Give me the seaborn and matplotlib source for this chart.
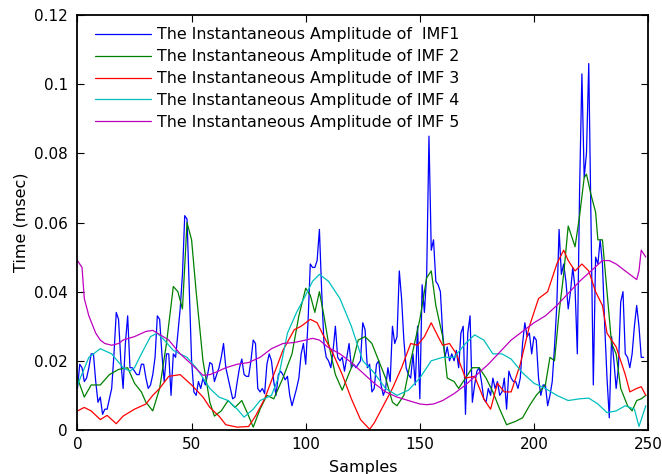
import pandas as pd
import seaborn as sns
import matplotlib
matplotlib.use("Agg")
import matplotlib.pyplot as plt
from matplotlib.ticker import FuncFormatter

# %% Data
imf1_x = list(range(0, 249))
imf1_y = [0.012, 0.019, 0.018, 0.014, 0.015, 0.018, 0.022, 0.022, 0.014, 0.008,
          0.0095, 0.0045, 0.006, 0.006, 0.009, 0.012, 0.022, 0.034, 0.032, 0.020,
          0.012, 0.025, 0.033, 0.018, 0.018, 0.017, 0.016, 0.016, 0.019, 0.019,
          0.015, 0.012, 0.013, 0.016, 0.021, 0.033, 0.032, 0.022, 0.014, 0.022,
          0.022, 0.010, 0.022, 0.021, 0.028, 0.035, 0.045, 0.062, 0.061, 0.040,
          0.020, 0.011, 0.010, 0.014, 0.012, 0.015, 0.013, 0.016, 0.0195, 0.019,
          0.014, 0.016, 0.018, 0.021, 0.025, 0.018, 0.015, 0.012, 0.009, 0.0095,
          0.014, 0.018, 0.0205, 0.016, 0.0155, 0.0155, 0.020, 0.026, 0.025, 0.012,
          0.011, 0.012, 0.0105, 0.019, 0.022, 0.020, 0.014, 0.010, 0.016, 0.017,
          0.016, 0.0145, 0.0155, 0.010, 0.007, 0.0095, 0.012, 0.015, 0.022, 0.025,
          0.019, 0.031, 0.048, 0.047, 0.047, 0.049, 0.058, 0.040, 0.025, 0.021,
          0.020, 0.018, 0.023, 0.030, 0.021, 0.020, 0.021, 0.017, 0.021, 0.025,
          0.018, 0.019, 0.018, 0.019, 0.020, 0.031, 0.029, 0.018, 0.019, 0.011,
          0.012, 0.019, 0.020, 0.013, 0.010, 0.012, 0.018, 0.014, 0.030, 0.025,
          0.027, 0.046, 0.038, 0.026, 0.018, 0.016, 0.015, 0.022, 0.013, 0.030,
          0.009, 0.042, 0.034, 0.045, 0.085, 0.052, 0.055, 0.043, 0.042, 0.040,
          0.028, 0.021, 0.024, 0.020, 0.022, 0.020, 0.023, 0.018, 0.028, 0.030,
          0.0045, 0.028, 0.033, 0.008, 0.013, 0.017, 0.018, 0.014, 0.009, 0.008,
          0.012, 0.010, 0.015, 0.012, 0.014, 0.010, 0.011, 0.015, 0.006, 0.017,
          0.015, 0.014, 0.014, 0.012, 0.015, 0.025, 0.031, 0.027, 0.028, 0.022,
          0.027, 0.026, 0.015, 0.010, 0.013, 0.013, 0.007, 0.010, 0.014, 0.024,
          0.036, 0.058, 0.045, 0.048, 0.043, 0.035, 0.040, 0.047, 0.041, 0.022,
          0.070, 0.103, 0.073, 0.080, 0.106, 0.060, 0.013, 0.050, 0.048, 0.055,
          0.048, 0.030, 0.015, 0.0035, 0.027, 0.020, 0.012, 0.018, 0.037, 0.040,
          0.022, 0.021, 0.018, 0.022, 0.030, 0.036, 0.030, 0.021, 0.021]

imf2_x = [0, 3, 6, 10, 14, 18, 22, 25, 28, 30, 33, 36, 39, 42, 44, 46, 48, 50, 52,
          55, 58, 60, 63, 66, 69, 72, 75, 77, 80, 83, 86, 90, 94, 97, 100, 102, 104,
          106, 108, 110, 113, 116, 120, 123, 126, 129, 132, 135, 138, 140, 143, 146,
          150, 153, 155, 157, 160, 162, 165, 167, 170, 173, 176, 179, 182, 185, 188,
          192, 195, 198, 201, 205, 207, 209, 211, 213, 215, 218, 220, 222, 223, 225,
          227, 228, 230, 232, 234, 236, 238, 241, 243, 245, 247, 249]
imf2_y = [0.015, 0.0095, 0.013, 0.013, 0.016, 0.0175, 0.018, 0.0135, 0.011, 0.008,
          0.0055, 0.012, 0.025, 0.0415, 0.040, 0.035, 0.060, 0.055, 0.040, 0.020,
          0.008, 0.004, 0.0055, 0.0085, 0.0065, 0.0085, 0.004, 0.0008, 0.006, 0.010,
          0.009, 0.015, 0.022, 0.033, 0.041, 0.039, 0.034, 0.040, 0.033, 0.025,
          0.016, 0.0115, 0.018, 0.026, 0.027, 0.025, 0.020, 0.015, 0.008, 0.007,
          0.010, 0.020, 0.032, 0.044, 0.046, 0.036, 0.027, 0.015, 0.014, 0.012,
          0.015, 0.018, 0.018, 0.015, 0.011, 0.006, 0.0015, 0.0025, 0.0035, 0.007,
          0.010, 0.013, 0.021, 0.020, 0.034, 0.045, 0.059, 0.053, 0.062, 0.073,
          0.074, 0.068, 0.063, 0.055, 0.055, 0.040, 0.025, 0.022, 0.012, 0.007,
          0.0055, 0.0085, 0.009, 0.010]

imf3_x = [0, 3, 6, 10, 13, 15, 17, 20, 25, 30, 33, 36, 40, 45, 50, 55, 58, 62, 65,
          70, 75, 78, 82, 86, 90, 95, 98, 102, 105, 108, 112, 116, 120, 124, 128,
          130, 134, 138, 142, 146, 149, 152, 155, 158, 160, 163, 166, 170, 174, 178,
          181, 184, 187, 190, 194, 198, 202, 206, 210, 213, 215, 218, 221, 224, 227,
          230, 232, 236, 240, 242, 245, 247, 249]
imf3_y = [0.0055, 0.0065, 0.0055, 0.003, 0.0042, 0.003, 0.0018, 0.004, 0.006, 0.0075,
          0.010, 0.012, 0.0155, 0.016, 0.013, 0.0095, 0.0065, 0.004, 0.0015, 0.0008,
          0.001, 0.004, 0.009, 0.016, 0.023, 0.029, 0.030, 0.032, 0.031, 0.027,
          0.022, 0.016, 0.009, 0.003, 0.0002, 0.002, 0.007, 0.012, 0.018, 0.025,
          0.0245, 0.027, 0.031, 0.027, 0.0245, 0.025, 0.022, 0.015, 0.0155, 0.009,
          0.006, 0.0135, 0.011, 0.011, 0.019, 0.030, 0.038, 0.040, 0.048, 0.052,
          0.049, 0.046, 0.048, 0.046, 0.040, 0.036, 0.028, 0.024, 0.016, 0.011,
          0.012, 0.0125, 0.010]

imf4_x = [0, 5, 10, 15, 20, 23, 25, 28, 32, 35, 38, 42, 45, 48, 52, 55, 58, 62, 66,
          70, 73, 77, 80, 85, 88, 92, 96, 100, 103, 106, 110, 115, 120, 125, 130,
          135, 140, 145, 150, 155, 160, 165, 170, 174, 178, 182, 186, 190, 195, 200,
          205, 210, 215, 220, 224, 228, 232, 236, 240, 244, 246, 249]
imf4_y = [0.013, 0.021, 0.0235, 0.022, 0.018, 0.017, 0.018, 0.022, 0.027, 0.028,
          0.026, 0.023, 0.022, 0.021, 0.018, 0.015, 0.012, 0.0095, 0.0085, 0.006,
          0.0037, 0.006, 0.0085, 0.010, 0.015, 0.028, 0.034, 0.039, 0.043, 0.045,
          0.043, 0.038, 0.030, 0.020, 0.0165, 0.012, 0.010, 0.0115, 0.015, 0.020,
          0.021, 0.021, 0.025, 0.0275, 0.026, 0.022, 0.022, 0.0205, 0.0165, 0.0135,
          0.012, 0.010, 0.0085, 0.009, 0.0092, 0.0075, 0.005, 0.0055, 0.007, 0.006,
          0.001, 0.007]

imf5_x = [0, 2, 3, 5, 8, 10, 12, 15, 18, 20, 25, 30, 33, 35, 40, 45, 50, 55, 58, 60,
          65, 70, 75, 80, 85, 90, 95, 100, 103, 106, 110, 115, 120, 125, 130, 135,
          140, 145, 150, 153, 156, 160, 165, 170, 175, 180, 185, 190, 195, 200, 205,
          210, 215, 220, 225, 230, 233, 236, 240, 244, 245, 246, 247, 249]
imf5_y = [0.049, 0.047, 0.038, 0.033, 0.028, 0.026, 0.025, 0.0245, 0.025, 0.026,
          0.027, 0.0285, 0.0288, 0.028, 0.026, 0.022, 0.019, 0.0158, 0.016, 0.0165,
          0.018, 0.019, 0.0195, 0.021, 0.0235, 0.025, 0.0253, 0.026, 0.0265, 0.026,
          0.0238, 0.022, 0.0195, 0.0165, 0.0135, 0.011, 0.0095, 0.0085, 0.0075,
          0.0073, 0.0075, 0.0085, 0.0105, 0.013, 0.016, 0.019, 0.0225, 0.026, 0.0285,
          0.031, 0.033, 0.036, 0.0395, 0.043, 0.046, 0.049, 0.049, 0.048, 0.046,
          0.044, 0.0435, 0.046, 0.052, 0.050]

labels = ["The Instantaneous Amplitude of  IMF1",
          "The Instantaneous Amplitude of IMF 2",
          "The Instantaneous Amplitude of IMF 3",
          "The Instantaneous Amplitude of IMF 4",
          "The Instantaneous Amplitude of IMF 5"]
colors = ["#0000ff", "#008000", "#ff0000", "#00bfbf", "#bf00bf"]

# %% Plot
sns.set_style("ticks", {"text.color": "black", "axes.labelcolor": "black",
                        "xtick.color": "black", "ytick.color": "black",
                        "axes.edgecolor": "black"})
plt.rcParams['font.family'] = ['DejaVu Sans']

fig = plt.figure(figsize=(6.62, 4.74), dpi=100)
ax = fig.add_axes([0.117, 0.093, 0.862, 0.875])

series = [(imf1_x, imf1_y), (imf2_x, imf2_y), (imf3_x, imf3_y),
          (imf4_x, imf4_y), (imf5_x, imf5_y)]
for (xs, ys), lab, col in zip(series, labels, colors):
    df = pd.DataFrame({"Samples": xs, "Amp": ys})
    sns.lineplot(data=df, x="Samples", y="Amp", ax=ax, color=col,
                 linewidth=0.9, label=lab)

ax.set_xlim(0, 250)
ax.set_ylim(0, 0.12)
ax.set_xticks([0, 50, 100, 150, 200, 250])
ax.set_yticks([0, 0.02, 0.04, 0.06, 0.08, 0.1, 0.12])
ax.yaxis.set_major_formatter(FuncFormatter(lambda v, p: f"{v:g}"))
ax.tick_params(direction='in', top=True, right=True, length=5,
               labelsize=11, width=0.8, colors='black')
ax.tick_params(axis='x', pad=5)
ax.tick_params(axis='y', pad=7)
for sp in ax.spines.values():
    sp.set_linewidth(1.3)
    sp.set_color('black')
ax.set_xlabel("Samples", fontsize=11.5, labelpad=6, color='black')
ax.set_ylabel("Time (msec)", fontsize=11.5, labelpad=4, color='black')

ax.legend(loc='upper left', frameon=False, fontsize=11.4, handlelength=3.5,
          handletextpad=0.4, borderaxespad=0.3, labelspacing=0.43,
          bbox_to_anchor=(0.012, 0.997))

fig.savefig("out.png", dpi=100)
